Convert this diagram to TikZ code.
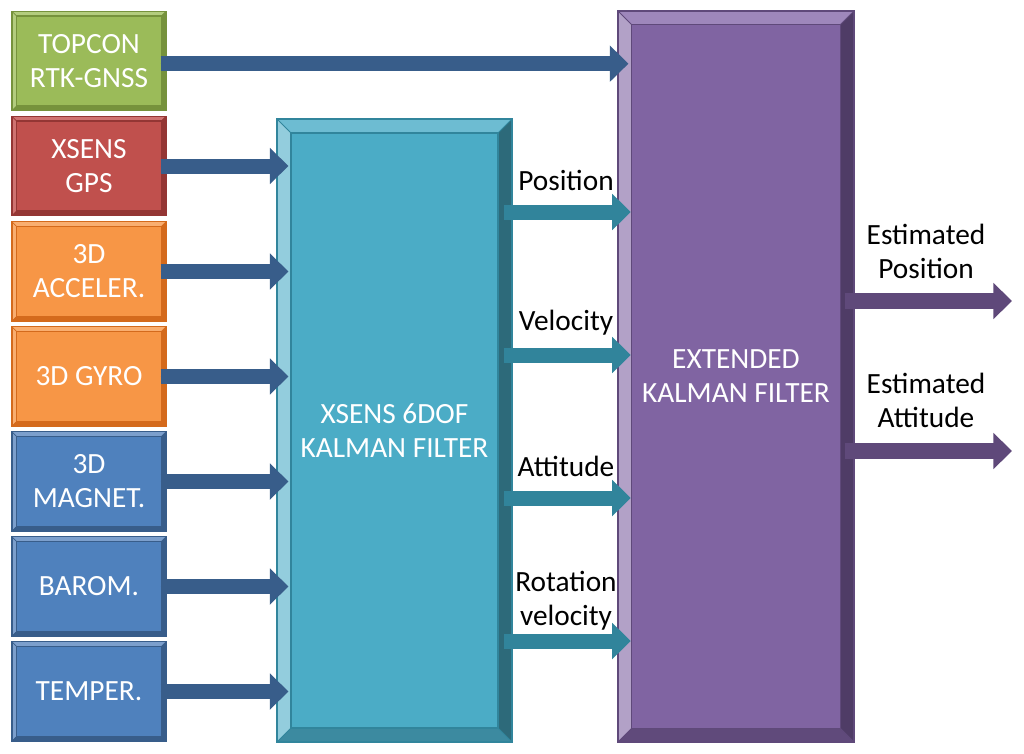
\documentclass[tikz,border=0pt]{standalone}
\usepackage{fontspec}
\setmainfont{Carlito}
\usetikzlibrary{arrows.meta,calc}
\definecolor{gBase}{HTML}{9BBB59}\definecolor{gLight}{HTML}{B3CC7E}\definecolor{gDark}{HTML}{76923C}
\definecolor{rBase}{HTML}{C0504D}\definecolor{rLight}{HTML}{CF7371}\definecolor{rDark}{HTML}{943634}
\definecolor{oBase}{HTML}{F79646}\definecolor{oLight}{HTML}{F9AE70}\definecolor{oDark}{HTML}{D46A1C}
\definecolor{bBase}{HTML}{4F81BD}\definecolor{bLight}{HTML}{7C9FCC}\definecolor{bDark}{HTML}{385D8A}
\definecolor{tBase}{HTML}{4BACC6}\definecolor{tLeft}{HTML}{93CDDD}\definecolor{tTop}{HTML}{6DBCD2}\definecolor{tRight}{HTML}{2D6A7A}\definecolor{tBottom}{HTML}{3C8AA0}\definecolor{tLine}{HTML}{31859C}
\definecolor{pBase}{HTML}{8064A2}\definecolor{pLeft}{HTML}{B2A1C7}\definecolor{pTop}{HTML}{9E87BB}\definecolor{pRight}{HTML}{4F3C66}\definecolor{pBottom}{HTML}{604A7B}\definecolor{pLine}{HTML}{5F497A}
\definecolor{arBlue}{HTML}{385D8A}\definecolor{arTeal}{HTML}{31849B}\definecolor{arPurple}{HTML}{5F497A}
\tikzset{
  bevelbox/.style n args={7}{% w, base, left, top, right, bottom, line
    rectangle, fill=#2, draw=#7, line width=0.8pt,
    path picture={
      \coordinate (pNW) at (path picture bounding box.north west);
      \coordinate (pNE) at (path picture bounding box.north east);
      \coordinate (pSW) at (path picture bounding box.south west);
      \coordinate (pSE) at (path picture bounding box.south east);
      \coordinate (iNW) at ([xshift=#1,yshift=-#1]pNW);
      \coordinate (iNE) at ([xshift=-#1,yshift=-#1]pNE);
      \coordinate (iSW) at ([xshift=#1,yshift=#1]pSW);
      \coordinate (iSE) at ([xshift=-#1,yshift=#1]pSE);
      \fill[#3] (pNW) -- (pSW) -- (iSW) -- (iNW) -- cycle;
      \fill[#4] (pNW) -- (pNE) -- (iNE) -- (iNW) -- cycle;
      \fill[#5] (pNE) -- (pSE) -- (iSE) -- (iNE) -- cycle;
      \fill[#6] (pSW) -- (pSE) -- (iSE) -- (iSW) -- cycle;
      \draw[#7, line width=0.6pt] (pNW) -- (iNW) (pNE) -- (iNE) (pSW) -- (iSW) (pSE) -- (iSE);
      \draw[#7, line width=0.8pt] (iNW) rectangle (iSE);
    }},
  srcbox/.style={minimum width=115.5pt, minimum height=74.5pt, inner sep=0pt,
    text=white, align=center, font=\fontsize{22}{25.5}\selectfont},
  sgreen/.style={srcbox, bevelbox={3.5pt}{gBase}{gLight}{gLight}{gDark}{gDark}{gDark}},
  sred/.style={srcbox, bevelbox={3.5pt}{rBase}{rLight}{rLight}{rDark}{rDark}{rDark}},
  sorange/.style={srcbox, bevelbox={3.5pt}{oBase}{oLight}{oLight}{oDark}{oDark}{oDark}},
  sblue/.style={srcbox, bevelbox={3.5pt}{bBase}{bLight}{bLight}{bDark}{bDark}{bDark}},
  bigbox/.style={inner sep=0pt, text=white, align=center, font=\fontsize{22}{25.5}\selectfont},
  lbl/.style={align=center, font=\fontsize{22}{25.5}\selectfont, inner sep=0pt},
  fatarrow/.style={line width=11.25pt, -{Triangle[length=14pt,width=26.5pt]}},
  barrow/.style={fatarrow, draw=arBlue, fill=arBlue},
  tarrow/.style={fatarrow, draw=arTeal, fill=arTeal},
  parrow/.style={fatarrow, line width=12pt, draw=arPurple, fill=arPurple},
}
\begin{document}
\begin{tikzpicture}[x=0.75pt,y=-0.75pt]
\useasboundingbox (0,0) rectangle (1024,753);
% source boxes
\node[sgreen]  (topcon) at (89,61)    {TOPCON\\RTK-GNSS};
\node[sred]    (gps)    at (89,166)   {XSENS\\GPS};
\node[sorange] (acc)    at (89,271.5) {3D\\ACCELER.};
\node[sorange] (gyro)   at (89,376.5) {3D GYRO};
\node[sblue]   (mag)    at (89,481.5) {3D\\MAGNET.};
\node[sblue]   (baro)   at (89,586.5) {BAROM.};
\node[sblue]   (temp)   at (89,691.5) {TEMPER.};
% filters
\node[bigbox, minimum width=176.25pt, minimum height=467.25pt,
  bevelbox={10.5pt}{tBase}{tLeft}{tTop}{tRight}{tBottom}{tLine}] (kf) at (394.5,430.5) {XSENS 6DOF\\KALMAN FILTER};
\node[bigbox, minimum width=177pt, minimum height=548.25pt,
  bevelbox={10pt}{pBase}{pLeft}{pTop}{pRight}{pBottom}{pLine}] (ekf) at (736,376.5) {EXTENDED\\KALMAN FILTER};
% input arrows
\draw[barrow] ([xshift=-4.5pt,yshift=-2pt]topcon.east) -- ([xshift=8.25pt,yshift=-2pt]ekf.west |- topcon.east);
\foreach \s in {gps,acc,gyro,mag,baro,temp}
  \draw[barrow] ([xshift=-4.5pt]\s.east) -- ([xshift=9pt]kf.west |- \s.east);
% KF outputs
\coordinate (y1) at (0,212);
\coordinate (y2) at (0,355);
\coordinate (y3) at (0,498);
\coordinate (y4) at (0,641);
\foreach \y in {y1,y2,y3,y4}
  \draw[tarrow] ([xshift=-6.5pt]kf.east |- \y) -- ([xshift=10pt]ekf.west |- \y);
\node[lbl] (lpos) at (566,180) {Position};
\node[lbl] (lvel) at (566,323) {Velocity};
\node[lbl] (latt) at (566,466) {Attitude};
\node[lbl] (lrot) at (566,601) {Rotation\\velocity};
% EKF outputs
\coordinate (o1) at (1012,301);
\coordinate (o2) at (1012,451);
\draw[parrow] ([xshift=-7.5pt]ekf.east |- o1) -- (o1);
\draw[parrow] ([xshift=-7.5pt]ekf.east |- o2) -- (o2);
\node[lbl] (lep) at (926,251) {Estimated\\Position};
\node[lbl] (lea) at (926,400) {Estimated\\Attitude};
\end{tikzpicture}
\end{document}
